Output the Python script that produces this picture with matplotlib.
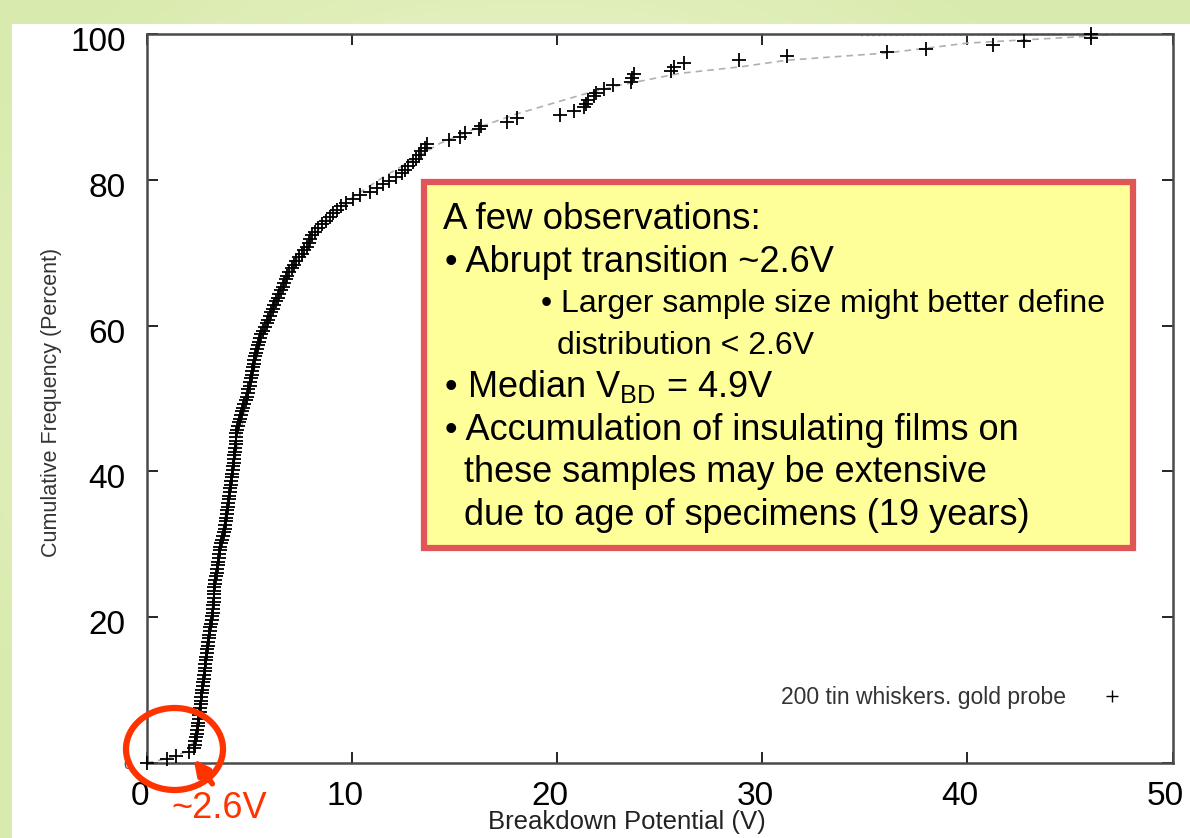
import numpy as np
import matplotlib
matplotlib.use("Agg")
import matplotlib.pyplot as plt
import matplotlib.transforms as mtransforms
from matplotlib.patches import Ellipse, Rectangle, FancyArrowPatch
from matplotlib.lines import Line2D

plt.rcParams['font.family'] = ['Liberation Sans', 'DejaVu Sans']
plt.rcParams['mathtext.default'] = 'regular'

# ---------------- data ----------------
breakdown_v = [
    0.00, 1.00, 1.46, 2.06, 2.30, 2.34, 2.37, 2.41, 2.45, 2.47,
    2.50, 2.52, 2.55, 2.57, 2.60, 2.62, 2.64, 2.66, 2.68, 2.70,
    2.72, 2.74, 2.76, 2.79, 2.81, 2.83, 2.85, 2.87, 2.89, 2.91,
    2.93, 2.96, 2.98, 3.00, 3.03, 3.05, 3.08, 3.11, 3.14, 3.17,
    3.21, 3.23, 3.24, 3.25, 3.27, 3.28, 3.29, 3.30, 3.31, 3.33,
    3.36, 3.39, 3.42, 3.45, 3.47, 3.50, 3.52, 3.55, 3.57, 3.60,
    3.63, 3.67, 3.72, 3.76, 3.81, 3.84, 3.86, 3.88, 3.91, 3.93,
    3.95, 3.98, 4.00, 4.03, 4.05, 4.08, 4.10, 4.13, 4.15, 4.18,
    4.20, 4.22, 4.24, 4.26, 4.28, 4.30, 4.32, 4.34, 4.35, 4.36,
    4.37, 4.41, 4.46, 4.50, 4.54, 4.59, 4.65, 4.71, 4.77, 4.83,
    4.88, 4.93, 4.97, 5.02, 5.06, 5.09, 5.13, 5.16, 5.19, 5.22,
    5.26, 5.29, 5.33, 5.38, 5.43, 5.47, 5.52, 5.59, 5.68, 5.76,
    5.85, 5.93, 6.02, 6.09, 6.15, 6.23, 6.31, 6.40, 6.48, 6.56,
    6.64, 6.71, 6.79, 6.86, 6.95, 7.07, 7.18, 7.29, 7.42, 7.56,
    7.69, 7.82, 7.91, 7.99, 8.08, 8.20, 8.38, 8.56, 8.74, 8.92,
    9.10, 9.27, 9.49, 9.72, 10.04, 10.42, 10.87, 11.23, 11.53, 11.82,
    12.16, 12.43, 12.58, 12.74, 12.98, 13.13, 13.27, 13.40, 13.55, 13.65,
    14.72, 15.29, 15.54, 16.19, 16.30, 17.57, 18.06, 20.17, 20.82, 21.34,
    21.42, 21.50, 21.80, 21.90, 22.28, 22.74, 23.62, 23.67, 23.75, 25.54,
    25.70, 26.20, 28.87, 31.23, 36.10, 37.98, 41.23, 42.77, 46.03, 46.05,
]
cum_freq_pct = [
    0.00, 0.50, 1.01, 1.51, 2.01, 2.51, 3.02, 3.52, 4.02, 4.52,
    5.03, 5.53, 6.03, 6.53, 7.04, 7.54, 8.04, 8.54, 9.05, 9.55,
    10.05, 10.55, 11.06, 11.56, 12.06, 12.56, 13.07, 13.57, 14.07, 14.57,
    15.08, 15.58, 16.08, 16.58, 17.09, 17.59, 18.09, 18.59, 19.10, 19.60,
    20.10, 20.60, 21.11, 21.61, 22.11, 22.61, 23.12, 23.62, 24.12, 24.62,
    25.13, 25.63, 26.13, 26.63, 27.14, 27.64, 28.14, 28.64, 29.15, 29.65,
    30.15, 30.65, 31.16, 31.66, 32.16, 32.66, 33.17, 33.67, 34.17, 34.67,
    35.18, 35.68, 36.18, 36.68, 37.19, 37.69, 38.19, 38.69, 39.20, 39.70,
    40.20, 40.70, 41.21, 41.71, 42.21, 42.71, 43.22, 43.72, 44.22, 44.72,
    45.23, 45.73, 46.23, 46.73, 47.24, 47.74, 48.24, 48.74, 49.25, 49.75,
    50.25, 50.75, 51.26, 51.76, 52.26, 52.76, 53.27, 53.77, 54.27, 54.77,
    55.28, 55.78, 56.28, 56.78, 57.29, 57.79, 58.29, 58.79, 59.30, 59.80,
    60.30, 60.80, 61.31, 61.81, 62.31, 62.81, 63.32, 63.82, 64.32, 64.82,
    65.33, 65.83, 66.33, 66.83, 67.34, 67.84, 68.34, 68.84, 69.35, 69.85,
    70.35, 70.85, 71.36, 71.86, 72.36, 72.86, 73.37, 73.87, 74.37, 74.87,
    75.38, 75.88, 76.38, 76.88, 77.39, 77.89, 78.39, 78.89, 79.40, 79.90,
    80.40, 80.90, 81.41, 81.91, 82.41, 82.91, 83.42, 83.92, 84.42, 84.92,
    85.43, 85.93, 86.43, 86.93, 87.44, 87.94, 88.44, 88.94, 89.45, 89.95,
    90.45, 90.95, 91.46, 91.96, 92.46, 92.96, 93.47, 93.97, 94.47, 94.97,
    95.48, 95.98, 96.48, 96.98, 97.49, 97.99, 98.49, 98.99, 99.50, 100.00,
]
fit_v = [0.0, 1.0, 2.0, 2.4, 2.7, 3.0, 3.4, 3.9, 4.4, 5.0, 5.6, 6.3, 7.0, 8.0,
         9.0, 10.0, 11.5, 13.0, 14.3, 16.0, 18.0, 21.5, 23.1, 26.0, 28.95,
         31.2, 36.1, 40.0, 42.8, 46.0, 47.5]
fit_pct = [0.0, 0.6, 1.6, 3.5, 9.0, 16.0, 26.0, 35.0, 43.0, 51.0, 58.0, 63.5,
           67.5, 72.0, 75.0, 77.5, 80.3, 82.8, 85.0, 87.0, 89.0, 91.9, 93.0,
           94.6, 95.5, 96.4, 97.4, 98.75, 99.2, 99.7, 100.0]
fit2_v = [34.8, 47.5]
fit2_pct = [99.8, 100.0]

x_ticks = [0, 10, 20, 30, 40, 50]
y_ticks = [0, 20, 40, 60, 80, 100]
legend_label = "200 tin whiskers. gold probe"
box_lines = [
    ("A few observations:", 443, 229, 26.4),
    ("\u2022 Abrupt transition ~2.6V", 445, 272, 26),
    ("\u2022 Larger sample size might better define", 541, 312, 23),
    ("distribution < 2.6V", 557, 354, 23),
    ("\u2022", 445, 397, 26),
    ("Median V$_{BD}$ = 4.9V", 467, 397, 26),
    ("\u2022 Accumulation of insulating films on", 445, 440, 26),
    ("these samples may be extensive", 464, 482, 26),
    ("due to age of specimens (19 years)", 464, 525, 26),
]

W, H = 1190, 838
fig = plt.figure(figsize=(W / 100, H / 100), dpi=100)

def fx(px):
    return px / W

def fy(py):
    return 1 - py / H

# ---------------- background ----------------
bg = fig.add_axes([0, 0, 1, 1], zorder=-10)
bg.set_axis_off()
yy, xx = np.mgrid[0:1:200j, 0:1:300j]
r = np.clip(np.sqrt(((xx - 0.45) / 0.55) ** 2 + ((yy - 0.45) / 0.6) ** 2), 0, 1)
light = np.array([0.97, 0.99, 0.89])
green = np.array([0.85, 0.92, 0.68])
img = light[None, None, :] * (1 - r[..., None]) + green[None, None, :] * r[..., None]
bg.imshow(img, extent=[0, 1, 0, 1], aspect='auto', origin='upper')
bg.set_xlim(0, 1)
bg.set_ylim(0, 1)
bg.add_patch(Rectangle((fx(12), 0), 1 - fx(12), fy(24), facecolor='white',
                       edgecolor='none'))

# ---------------- main axes ----------------
ax_left, ax_right, ax_top, ax_bottom = 146.5, 1172.5, 34, 763
ax = fig.add_axes([fx(ax_left), fy(ax_bottom), fx(ax_right - ax_left),
                   (ax_bottom - ax_top) / H])
ax.set_facecolor('white')

ax.plot(fit_v, fit_pct, color='#b0b0b0', lw=1.2, ls=(0, (4, 3)), zorder=2)
ax.plot(fit2_v, fit2_pct, color='#b0b0b0', lw=1.2, ls=(0, (1.5, 2)), zorder=2,
        clip_on=False)
ax.plot(breakdown_v, cum_freq_pct, ls='none', marker='+', ms=9.5, mew=1.3,
        color='black', zorder=3, clip_on=False)

ax.set_xlim(0, 50)
ax.set_ylim(0, 100)
ax.set_xticks(x_ticks)
ax.set_xticklabels([str(t) for t in x_ticks])
ax.set_yticks(y_ticks)
ax.set_yticklabels([''] + [str(t) for t in y_ticks[1:]])
ax.text(-0.7, -0.3, '0', ha='right', va='center', fontsize=11, color='#555555',
        clip_on=False)

ax.tick_params(axis='both', direction='in', length=8, width=1.2,
               top=True, right=True, labelsize=24, colors='black')
ax.tick_params(axis='y', pad=15)
ax.tick_params(axis='x', pad=13)
for s in ax.spines.values():
    s.set_color('#4a4a4a')
    s.set_linewidth(1.8)

# small shifts of tick labels as in the reference
dy = mtransforms.ScaledTranslation(0, -5 / 100, fig.dpi_scale_trans)
for lab in ax.get_yticklabels():
    lab.set_transform(lab.get_transform() + dy)
dx = mtransforms.ScaledTranslation(-7 / 100, 0, fig.dpi_scale_trans)
for lab in ax.get_xticklabels():
    lab.set_transform(lab.get_transform() + dx)

fig.text(fx(627), fy(822), "Breakdown Potential (V)", ha='center',
         va='center', fontsize=18.5, color='#222222')
fig.text(fx(52), fy(402), "Cumulative Frequency (Percent)", ha='center',
         va='center', rotation=90, fontsize=15.5, color='#333333')

handle = Line2D([], [], ls='none', marker='+', ms=9, mew=1.0, color='black')
ax.legend([handle], [legend_label], loc='center right',
          bbox_to_anchor=(0.952, 0.0905), frameon=False, markerfirst=False,
          fontsize=16.5, handlelength=1.0, handletextpad=1.5, borderpad=0,
          borderaxespad=0, labelcolor='#333333')

# ---------------- annotation box ----------------
box = Rectangle((fx(424), fy(548)), fx(1133 - 424), (548 - 182) / H,
                transform=fig.transFigure, facecolor='#FFFF99',
                edgecolor='#E05656', lw=4.5, zorder=10)
fig.add_artist(box)
for txt, px, py, size in box_lines:
    fig.text(fx(px), fy(py), txt, ha='left', va='baseline', fontsize=size,
             color='black', zorder=11)

# ---------------- red circle / arrow / label ----------------
red = '#FF3300'
circ = Ellipse((fx(174.5), fy(749)), fx(97), 82 / H, transform=fig.transFigure,
               facecolor='none', edgecolor=red, lw=4.5, zorder=12)
fig.add_artist(circ)
arr = FancyArrowPatch((fx(214), fy(786)), (fx(192), fy(757)),
                      transform=fig.transFigure, arrowstyle='-|>',
                      mutation_scale=22, color=red, lw=4, zorder=12)
fig.add_artist(arr)
fig.text(fx(219), fy(808), "~2.6V", ha='center', va='center', fontsize=26,
         color=red, zorder=12)

fig.savefig("out.png", dpi=100)
